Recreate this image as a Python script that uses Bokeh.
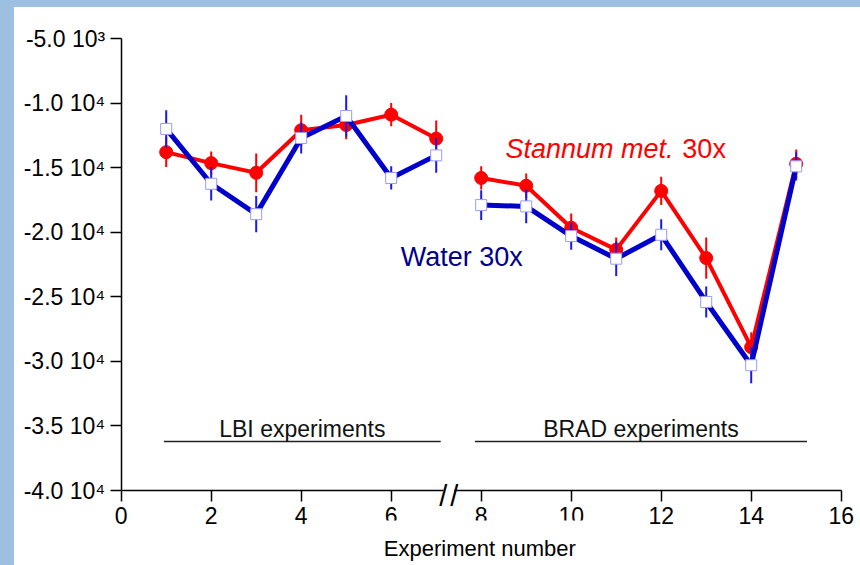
from bokeh.plotting import figure
from bokeh.models import Range1d, Label, GlobalInlineStyleSheet
from bokeh.core.properties import value
from bokeh.embed import file_html
from bokeh.resources import INLINE

# ---- data ----
x_lbi = [1, 2, 3, 4, 5, 6, 7]
x_brad = [8, 9, 10, 11, 12, 13, 14, 15]

water_lbi = [-12000, -16250, -18600, -12700, -11000, -15800, -14050]
water_lbi_err = [1450, 1300, 1400, 1200, 1600, 900, 1350]
stannum_lbi = [-13800, -14650, -15400, -12100, -11700, -10900, -12750]
stannum_lbi_err = [1150, 900, 1500, 1200, 1100, 900, 1400]

water_brad = [-17900, -18000, -20300, -22050, -20200, -25400, -30300, -14900]
water_brad_err = [1150, 1300, 1050, 1350, 1200, 1200, 1400, 1100]
stannum_brad = [-15800, -16400, -19650, -21350, -16800, -22000, -28900, -14700]
stannum_brad_err = [900, 950, 1100, 950, 1100, 1600, 1150, 1100]

x_ticks = [0, 2, 4, 6, 8, 10, 12, 14, 16]
y_ticks = [-40000, -35000, -30000, -25000, -20000, -15000, -10000, -5000]
y_tick_labels = ["-4.0 10\u2074", "-3.5 10\u2074", "-3.0 10\u2074", "-2.5 10\u2074",
                 "-2.0 10\u2074", "-1.5 10\u2074", "-1.0 10\u2074", "-5.0 10\u00b3"]

groups = ["LBI experiments", "BRAD experiments"]
group_start = [0.95, 7.86]
group_end = [7.1, 15.24]

x_break = 7.28

FONT = "Liberation Sans"
RED = "#ff0000"
BLUE = "#0000cc"
BLUE_ERR = "#1a1aee"

# layout: the frame covers the whole canvas so nothing outside the axes is
# clipped; the axes are pinned at x=0 and y=Y_MIN and limited by bounds.
X_MIN, X_MAX = 0, 16
Y_MIN, Y_MAX = -40000, -5000
W, H = 846, 558
LEFT, TOP = 106.7, 31
PLOT_W, PLOT_H = 720, 452
ux = (X_MAX - X_MIN) / PLOT_W
uy = (Y_MAX - Y_MIN) / PLOT_H
x_lo, x_hi = X_MIN - LEFT * ux, X_MAX + (W - LEFT - PLOT_W) * ux
y_hi, y_lo = Y_MAX + TOP * uy, Y_MIN - (H - TOP - PLOT_H) * uy

p = figure(width=W, height=H, output_backend="svg", toolbar_location=None,
           x_range=Range1d(x_lo, x_hi), y_range=Range1d(y_lo, y_hi),
           min_border=0, min_border_left=0, min_border_right=0, min_border_top=0,
           min_border_bottom=0)
p.title.visible = False
p.styles = {"background-color": "white"}
p.stylesheets = [GlobalInlineStyleSheet(
    css="html,body{background:#9dbfe0;margin:0;overflow:hidden;} body{padding:7px 0 0 14px;}")]
p.background_fill_color = "white"
p.border_fill_color = "white"
p.outline_line_color = None
p.grid.visible = False

for ax in (p.xaxis[0], p.yaxis[0]):
    ax.axis_line_width = 1.5
    ax.major_tick_line_width = 1.5
    ax.major_tick_in = 0
    ax.major_tick_out = 11
    ax.minor_tick_line_color = None
    ax.major_label_text_font = FONT
    ax.major_label_text_font_size = "23px"
    ax.major_label_text_color = "black"
    ax.axis_line_color = "black"
    ax.major_tick_line_color = "black"

p.xaxis.ticker = x_ticks
p.xaxis.major_label_standoff = 5
p.xaxis.fixed_location = Y_MIN
p.xaxis.bounds = (X_MIN, X_MAX)
p.yaxis.ticker = y_ticks
p.yaxis.fixed_location = X_MIN
p.yaxis.bounds = (Y_MIN, Y_MAX)
p.yaxis.major_label_standoff = 5
p.yaxis.major_label_overrides = {t: s for t, s in zip(y_ticks, y_tick_labels)}


def series(xs, ys, errs, line_color, err_color, lw, marker):
    p.segment(x0=xs, x1=xs, y0=[y - e for y, e in zip(ys, errs)],
              y1=[y + e for y, e in zip(ys, errs)], line_color=err_color, line_width=2)
    p.line(xs, ys, line_color=line_color, line_width=lw)
    if marker == "circle":
        p.scatter(xs, ys, marker="circle", size=13, fill_color=RED, line_color=RED)
    else:
        p.scatter(xs, ys, marker="square", size=11, fill_color="white",
                  line_color="#9a9aff", line_width=1)


series(x_lbi, stannum_lbi, stannum_lbi_err, RED, RED, 4, "circle")
series(x_brad, stannum_brad, stannum_brad_err, RED, RED, 4, "circle")
series(x_lbi, water_lbi, water_lbi_err, BLUE, BLUE_ERR, 5, "square")
series(x_brad, water_brad, water_brad_err, BLUE, BLUE_ERR, 5, "square")

# group markers
p.segment(x0=group_start, x1=group_end, y0=[-36200] * 2, y1=[-36200] * 2,
          line_color="#222222", line_width=1.5)
p.text(x=[(a + b) / 2 for a, b in zip(group_start, group_end)], y=[-35200] * 2, text=groups,
       text_font=value(FONT), text_font_size="23px", text_color="#111111",
       text_align="center", text_baseline="alphabetic")

# series annotations
p.text(x=[8.54], y=[-13590], text=["Stannum met."], text_font=value(FONT),
       text_font_size="27px", text_font_style="italic", text_color=RED,
       text_baseline="alphabetic")
p.text(x=[12.47], y=[-13590], text=["30x"], text_font=value(FONT),
       text_font_size="27px", text_color=RED, text_baseline="alphabetic")
p.text(x=[6.21], y=[-21950], text=["Water 30x"], text_font=value(FONT),
       text_font_size="27px", text_color="#00008b", text_baseline="alphabetic")

# axis break: white gap in the axis line, then two slashes
p.add_layout(Label(x=x_break, y=Y_MIN, text="\u2003", text_font=FONT,
                   text_font_size="11px", text_align="center", text_baseline="middle",
                   background_fill_color="white", level="overlay"))
for dx in (-0.12, 0.12):
    p.add_layout(Label(x=x_break + dx, y=Y_MIN - 5 * uy, text="/", text_font=FONT,
                       text_font_size="29px", text_color="black", text_align="center",
                       text_baseline="alphabetic", level="overlay"))

# axis title (its white box hides part of the tick labels, as in the original)
p.add_layout(Label(x=7.97, y=Y_MIN - 30 * uy, text="Experiment number", text_font=FONT,
                   text_font_size="22px", text_color="black", text_align="center",
                   text_baseline="top", background_fill_color="white", level="overlay",
                   padding=dict(left=8, right=8, top=15, bottom=2)))

open("out.html", "w").write(file_html(p, INLINE))
